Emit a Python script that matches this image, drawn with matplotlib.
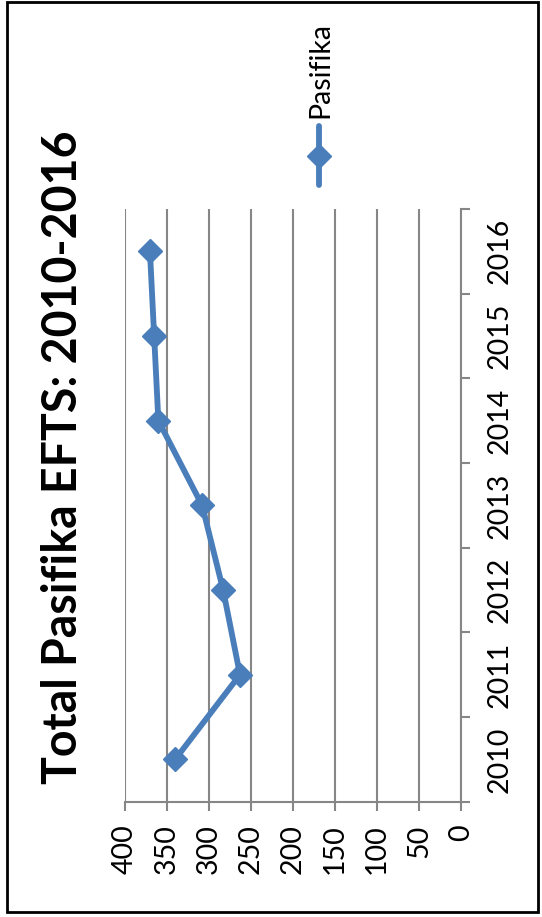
import numpy as np
import matplotlib
matplotlib.use('Agg')
import matplotlib.pyplot as plt
from matplotlib.lines import Line2D
from matplotlib.patches import Rectangle

# Pasifika EFTS by year
years = ['2010', '2011', '2012', '2013', '2014', '2015', '2016']
efts = [340, 263, 283, 308, 360, 365, 370]
value_ticks = [0, 50, 100, 150, 200, 250, 300, 350, 400]
series_name = 'Pasifika'
title = 'Total Pasifika EFTS: 2010-2016'

plt.rcParams['font.family'] = ['Lato', 'DejaVu Sans']

BLUE = '#4A7EBB'
GREY = '#868686'
W, H = 542, 917
LABEL_SIZE = 20.5

fig = plt.figure(figsize=(W / 100, H / 100), dpi=100)
fig.patch.set_facecolor('white')

# the whole chart is laid out turned on its side: values run right-to-left,
# years run bottom-to-top
ax = fig.add_axes([124.7 / W, 1 - 801.7 / H, 336.6 / W, 592.7 / H])
pos = np.arange(len(years))
ax.plot(efts, pos, color=BLUE, lw=4.2, marker='D', ms=12,
        mec=BLUE, mfc=BLUE, solid_joinstyle='round', zorder=3)

ax.set_xlim(400, 0)
ax.set_ylim(-0.5, len(years) - 0.5)

ax.set_xticks(value_ticks)
ax.set_xticklabels([str(v) for v in value_ticks], rotation=90,
                   fontsize=LABEL_SIZE)
ax.tick_params(axis='x', length=6.5, width=1.5, color=GREY, pad=10)
ax.xaxis.grid(True, color=GREY, lw=1.5)
ax.set_axisbelow(True)

ax.yaxis.tick_right()
ax.set_yticks(pos)
ax.set_yticklabels(years, rotation=90, va='center', fontsize=LABEL_SIZE)
ax.set_yticks(np.arange(-0.5, len(years), 1), minor=True)
ax.tick_params(axis='y', which='major', length=0, pad=18.5)
ax.tick_params(axis='y', which='minor', length=6.5, width=1.5, color=GREY,
               right=True, left=False)

for side in ('top', 'left'):
    ax.spines[side].set_visible(False)
for side in ('bottom', 'right'):
    ax.spines[side].set_color(GREY)
    ax.spines[side].set_linewidth(1.5)

# title, rotated along the left edge
fig.text(63 / W, 1 - 457.5 / H, title, rotation=90, ha='center', va='center',
         fontsize=33.5, fontweight='bold')

# legend entry drawn by hand so it can sit sideways
lx = 319.3 / W
fig.add_artist(Line2D([lx, lx], [1 - 185 / H, 1 - 126 / H], color=BLUE, lw=4.2,
                      solid_capstyle='round', transform=fig.transFigure))
fig.add_artist(Line2D([lx], [1 - 155.5 / H], color=BLUE, marker='D', ms=12,
                      mec=BLUE, transform=fig.transFigure))
fig.text(320 / W, 1 - 118 / H, series_name, rotation=90, ha='center',
         va='bottom', fontsize=LABEL_SIZE)

# outer frame
fig.add_artist(Rectangle((7 / W, 1 - 912 / H), 531 / W, 910 / H, fill=False,
                         ec='black', lw=2, transform=fig.transFigure))

fig.savefig('out.png', dpi=100)
